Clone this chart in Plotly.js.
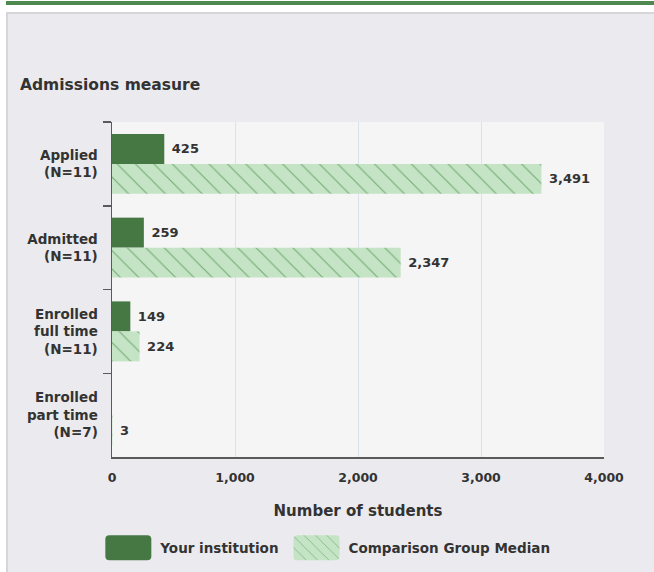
<!DOCTYPE html>
<html>
<head>
<meta charset="utf-8">
<script src="https://cdn.plot.ly/plotly-3.0.1.min.js"></script>
<style>
  html, body { margin: 0; padding: 0; background: #ffffff; width: 654px; height: 572px; overflow: hidden; }
  #topbar { position: absolute; left: 6px; top: 1px; width: 648px; height: 4px; background: #4e8a4f; }
  #panel { position: absolute; left: 6px; top: 12px; width: 648px; height: 560px; box-sizing: border-box;
           border-left: 2px solid #d6d6d9; border-top: 2px solid #d6d6d9; background: #ebebef; }
  #chart { position: absolute; left: 0px; top: 0px; width: 646px; height: 558px; }
</style>
</head>
<body>
<div id="topbar"></div>
<div id="panel"><div id="chart"></div></div>
<script>
// ---- data ----
const categories = [
  "Applied<br>(N=11)",
  "Admitted<br>(N=11)",
  "Enrolled<br>full time<br>(N=11)",
  "Enrolled<br>part time<br>(N=7)"
];
const yourInstitution = [425, 259, 149, null];
const comparisonMedian = [3491, 2347, 224, 3];
const seriesNames = ["Your institution", "Comparison Group Median"];
const xTickValues = [0, 1000, 2000, 3000, 4000];

const FONT = "DejaVu Sans, Liberation Sans, Arial, sans-serif";
const TXT = "#333333";

const traces = [
  {
    type: "bar",
    orientation: "h",
    name: seriesNames[0],
    y: categories,
    x: yourInstitution,
    marker: { color: "#467844", line: { width: 0 } },
    texttemplate: "\u00a0%{x:,}",
    textposition: "outside",
    cliponaxis: false,
    textfont: { family: FONT, size: 13, color: TXT, weight: "bold" },
    hoverinfo: "x+name"
  },
  {
    type: "bar",
    orientation: "h",
    name: seriesNames[1],
    y: categories,
    x: comparisonMedian,
    marker: {
      color: "#c5e3c5",
      line: { width: 0 },
      pattern: { shape: "\\", bgcolor: "#c5e3c5", fgcolor: "#3f8a3f", fgopacity: 0.6, size: 13, solidity: 0.09 }
    },
    texttemplate: "\u00a0%{x:,}",
    textposition: "outside",
    cliponaxis: false,
    textfont: { family: FONT, size: 13, color: TXT, weight: "bold" },
    hoverinfo: "x+name"
  }
];

const layout = {
  width: 646,
  height: 558,
  paper_bgcolor: "#ebebef",
  plot_bgcolor: "#f5f5f5",
  margin: { l: 104, r: 50, t: 108, b: 115 },
  barmode: "group",
  bargap: 0.284,
  bargroupgap: 0,
  font: { family: FONT, color: TXT, size: 13, weight: "bold" },
  title: {
    text: "Admissions measure",
    x: 0.0186, xanchor: "left", xref: "container",
    y: 0.873, yanchor: "middle", yref: "container",
    font: { family: FONT, size: 15.5, color: TXT, weight: "bold" }
  },
  xaxis: {
    range: [0, 4000],
    tickvals: xTickValues,
    tickformat: ",",
    showgrid: true,
    gridcolor: "#dbe2ec",
    gridwidth: 1,
    zeroline: false,
    showline: true,
    linecolor: "#5a5a5a",
    linewidth: 1.5,
    ticks: "outside",
    ticklen: 8,
    tickcolor: "rgba(0,0,0,0)",
    tickfont: { family: FONT, size: 12.5, color: TXT, weight: "bold" },
    title: {
      text: "Number of students",
      standoff: 22,
      font: { family: FONT, size: 15, color: TXT, weight: "bold" }
    },
    fixedrange: true
  },
  yaxis: {
    type: "category",
    autorange: "reversed",
    tickson: "boundaries",
    ticks: "outside",
    ticklen: 8,
    tickwidth: 1.5,
    tickcolor: "#5a5a5a",
    ticklabelstandoff: 10,
    showline: true,
    linecolor: "#5a5a5a",
    linewidth: 1.5,
    showgrid: false,
    zeroline: false,
    tickfont: { family: FONT, size: 13.5, color: TXT, weight: "bold" },
    fixedrange: true
  },
  showlegend: true,
  legend: {
    orientation: "h",
    xref: "container", yref: "container",
    x: 0.492, xanchor: "center",
    y: 0.043, yanchor: "middle",
    bgcolor: "rgba(0,0,0,0)",
    font: { family: FONT, size: 13.5, color: TXT, weight: "bold" },
    traceorder: "normal",
    itemwidth: 54
  }
};

Plotly.newPlot("chart", traces, layout, { displayModeBar: false, staticPlot: true }).then(function (gd) {
  // enlarge legend swatches to rounded rectangles like the reference
  const big = "M-19,-12.5H19A4,4 0 0 1 23,-8.5V8.5A4,4 0 0 1 19,12.5H-19A4,4 0 0 1 -23,8.5V-8.5A4,4 0 0 1 -19,-12.5Z";
  gd.querySelectorAll(".legend .legendpoints path").forEach(function (p) {
    p.setAttribute("d", big);
  });
});
</script>
</body>
</html>
